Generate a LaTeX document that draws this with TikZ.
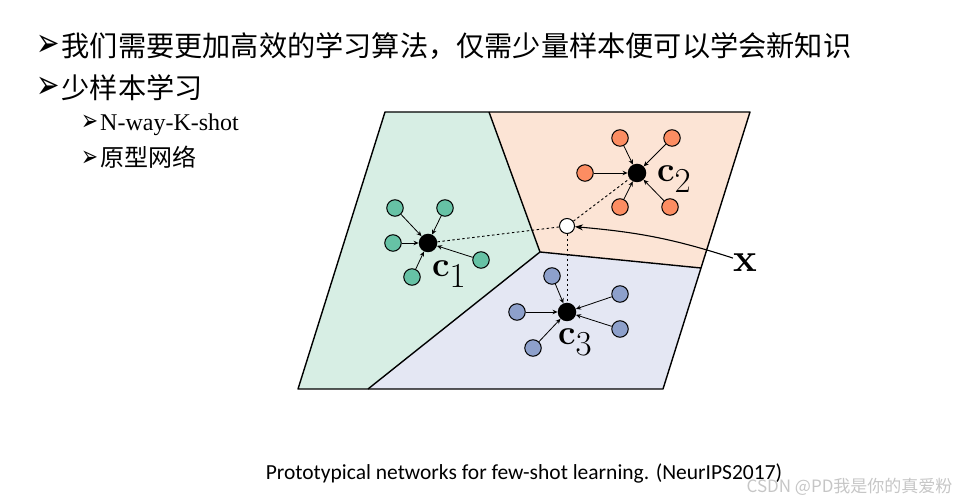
\RequirePackage{fix-cm}
\documentclass[tikz,border=0pt]{standalone}
\usepackage[no-math]{fontspec}
\setmainfont{Liberation Serif}
\newfontfamily\cjk{Noto Sans CJK SC}
\newfontfamily\dingf{DejaVu Sans}
\newfontfamily\capfont{Carlito}
\usetikzlibrary{arrows.meta,positioning}
\definecolor{gfill}{HTML}{D7EEE4}
\definecolor{ofill}{HTML}{FCE4D5}
\definecolor{bfill}{HTML}{E4E7F3}
\definecolor{gdot}{HTML}{66C2A5}
\definecolor{odot}{HTML}{FC8D62}
\definecolor{bdot}{HTML}{8DA0CB}
\newcommand{\bul}[1]{{\dingf\fontsize{#1}{#1}\selectfont\scalebox{0.7}[1]{➢}}}

\begin{document}
\begin{tikzpicture}[x=1pt, y=1pt,
  sample/.style={circle, draw, line width=1pt, minimum size=16.5pt, inner sep=0pt},
  proto/.style={circle, fill=black, minimum size=18.5pt, inner sep=0pt},
  query/.style={circle, draw, fill=white, line width=1pt, minimum size=15pt, inner sep=0pt},
  pull/.style={-{Stealth[length=5pt, width=4.5pt]}, line width=0.8pt},
  dist/.style={line width=0.9pt, dash pattern=on 2.5pt off 2.5pt},
  border/.style={line width=1.4pt, line join=round},
  clab/.style={inner sep=0pt, anchor=base west, font=\fontsize{35}{35}\selectfont},
  txt/.style={anchor=west, inner sep=0pt}]
  \useasboundingbox (0,0) rectangle (968,500);
  \coordinate (tl) at (385,388);
  \coordinate (tm) at (489,388);
  \coordinate (tr) at (750,388);
  \coordinate (br) at (663,111);
  \coordinate (bm) at (368,111);
  \coordinate (bl) at (298,111);
  \coordinate (j) at (540,248);
  \coordinate (r) at (701,232);
  \fill[gfill] (tl) -- (tm) -- (j) -- (bm) -- (bl) -- cycle;
  \fill[ofill] (tm) -- (tr) -- (r) -- (j) -- cycle;
  \fill[bfill] (j) -- (r) -- (br) -- (bm) -- cycle;
  \draw[border] (tl) -- (tr) -- (br) -- (bl) -- cycle;
  \draw[border] (tm) -- (j) -- (r);
  \draw[border] (j) -- (bm);

  \node[txt] (l1) at (36,454) {\bul{40}\hspace{2pt}\cjk\fontsize{28.2}{30}\selectfont 我们需要更加高效的学习算法，仅需少量样本便可以学会新知识};
  \node[txt] (l2) at (36,412) {\bul{40}\hspace{2pt}\cjk\fontsize{28.2}{30}\selectfont 少样本学习};
  \node[txt] (s1) at (81,375) {\bul{29}\hspace{2pt}\fontsize{24}{26}\selectfont N-way-K-shot};
  \node[txt] (s2) at (81,343) {\bul{29}\hspace{2pt}\cjk\fontsize{24}{26}\selectfont 原型网络};

  \node[proto] (c1) at (428,257) {};
  \node[proto] (c2) at (637,327) {};
  \node[proto] (c3) at (567,188) {};
  \node[query] (xq) at (567,274) {};
  \node[sample, fill=gdot] (g1) at (395,292) {};
  \node[sample, fill=gdot] (g2) at (445,292) {};
  \node[sample, fill=gdot] (g3) at (393,257) {};
  \node[sample, fill=gdot] (g4) at (481,240) {};
  \node[sample, fill=gdot] (g5) at (412,223) {};
  \node[sample, fill=odot] (o1) at (620,362) {};
  \node[sample, fill=odot] (o2) at (672,362) {};
  \node[sample, fill=odot] (o3) at (585,327) {};
  \node[sample, fill=odot] (o4) at (620,293) {};
  \node[sample, fill=odot] (o5) at (670,293) {};
  \node[sample, fill=bdot] (b1) at (552,224) {};
  \node[sample, fill=bdot] (b2) at (620,206) {};
  \node[sample, fill=bdot] (b3) at (517,188) {};
  \node[sample, fill=bdot] (b4) at (620,171) {};
  \node[sample, fill=bdot] (b5) at (533,152) {};
  \foreach \s in {g1,g2,g3,g4,g5} \draw[pull] (\s) -- (c1);
  \foreach \s in {o1,o2,o3,o4,o5} \draw[pull] (\s) -- (c2);
  \foreach \s in {b1,b2,b3,b4,b5} \draw[pull] (\s) -- (c3);
  \draw[dist] (c1) -- (xq);
  \draw[dist] (xq) -- (c2);
  \draw[dist] (xq) -- (c3);

  \node[clab] (l-c1) at (432,223) {$\mathbf{c}_{\displaystyle 1}$};
  \node[clab] (l-c2) at (657,318) {$\mathbf{c}_{\displaystyle 2}$};
  \node[clab] (l-c3) at (558,155) {$\mathbf{c}_{\displaystyle 3}$};
  \node[clab, font=\fontsize{40}{40}\selectfont] (xl) at (733,228) {$\mathbf{x}$};
  \draw[-{Stealth[length=8pt, width=6pt]}, line width=1.1pt] ([yshift=5pt]xl.west) to[out=162, in=-5] (xq);

  \node[font=\capfont\fontsize{21.5}{23}\selectfont] (cap) at (524,27) {Prototypical networks for few-shot learning. (NeurIPS2017)};
  \node[anchor=east, text=gray!45, font=\cjk\fontsize{17}{18}\selectfont] (wm) at (956,13) {CSDN @PD我是你的真爱粉};
\end{tikzpicture}
\end{document}
